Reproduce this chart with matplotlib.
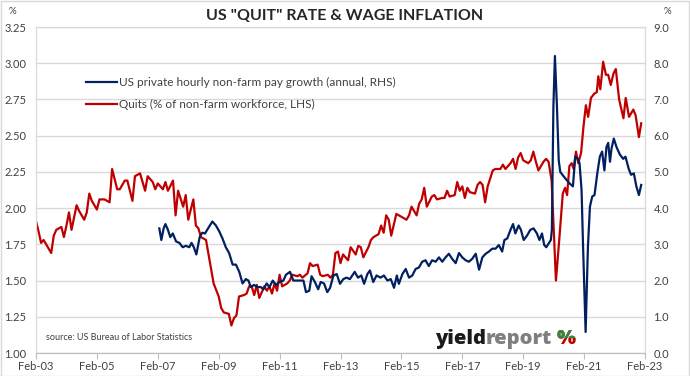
import numpy as np
import matplotlib.pyplot as plt
from matplotlib.lines import Line2D
from matplotlib.patches import Rectangle
from matplotlib.transforms import IdentityTransform

plt.rcParams['font.family'] = ['Lato', 'DejaVu Sans']

# x axis is months since Feb-2003
tick_labels = ['Feb-03', 'Feb-05', 'Feb-07', 'Feb-09', 'Feb-11', 'Feb-13',
               'Feb-15', 'Feb-17', 'Feb-19', 'Feb-21', 'Feb-23']

# Quits (% of non-farm workforce, LHS)
quit_months = [0, 1, 2, 3, 4, 6, 7, 8, 10, 11, 12, 13, 14, 16, 17, 19, 20, 21, 22, 24,
               25, 27, 29, 30, 32, 33, 35, 36, 38, 39, 41, 43, 44, 46, 47, 48, 50, 51, 52, 54,
               55, 56, 58, 59, 60, 62, 63, 64, 65, 67, 68, 69, 70, 72, 73, 74, 76, 77, 78, 79,
               80, 82, 83, 84, 85, 86, 87, 88, 90, 91, 92, 93, 94, 95, 96, 97, 99, 100, 101, 103,
               104, 105, 107, 108, 109, 111, 112, 113, 115, 116, 117, 118, 119, 120, 121, 123,
               124, 126, 127, 128, 129, 131, 132, 133, 135, 136, 137, 138, 139, 140, 142, 143,
               144, 146, 147, 148, 150, 151, 152, 153, 154, 156, 157, 158, 160, 161, 162, 163,
               165, 166, 167, 168, 169, 170, 171, 173, 174, 175, 176, 177, 178, 180, 181, 183,
               184, 185, 187, 188, 189, 190, 191, 192, 194, 195, 196, 197, 198, 200, 201, 202,
               203.2, 204.9, 206.2, 207.6, 208.5, 209.3, 210.2, 211.1, 211.9, 212.8, 213.7,
               214.8, 215.8, 216.7, 217.6, 218.7, 220, 221, 221.6, 222.4, 223.5, 224.6, 225.5,
               226.5, 227.6, 228.5, 229.8, 231.5, 232.4, 233.7, 235.4, 236.3, 237.6, 238.5]
quit_rate = [1.91, 1.84, 1.76, 1.78, 1.75, 1.69, 1.81, 1.85, 1.87, 1.80, 1.88, 1.97, 1.85, 2.02,
             1.98, 1.92, 1.97, 2.10, 2.05, 1.99, 2.06, 2.06, 2.04, 2.27, 2.13, 2.13, 2.19, 2.19,
             2.05, 2.22, 2.24, 2.12, 2.22, 2.18, 2.13, 2.17, 2.13, 2.18, 2.12, 2.19, 1.95, 2.12,
             2.01, 2.09, 1.92, 2.06, 1.88, 1.86, 1.80, 1.78, 1.68, 1.58, 1.48, 1.39, 1.31, 1.28,
             1.27, 1.19, 1.24, 1.26, 1.39, 1.40, 1.41, 1.46, 1.46, 1.40, 1.47, 1.38, 1.46, 1.43,
             1.46, 1.41, 1.48, 1.43, 1.54, 1.46, 1.48, 1.50, 1.54, 1.53, 1.54, 1.52, 1.55, 1.62,
             1.60, 1.61, 1.54, 1.53, 1.54, 1.52, 1.54, 1.69, 1.70, 1.62, 1.68, 1.64, 1.73, 1.68,
             1.74, 1.73, 1.66, 1.73, 1.78, 1.80, 1.82, 1.88, 1.83, 1.95, 1.92, 1.81, 1.96, 1.95,
             1.94, 1.92, 1.95, 2.01, 1.95, 2.03, 2.06, 2.14, 2.01, 2.08, 2.09, 2.06, 2.07, 2.07,
             2.12, 2.08, 2.09, 2.18, 2.12, 2.15, 2.07, 2.14, 2.11, 2.10, 2.16, 2.18, 2.16, 2.04,
             2.15, 2.26, 2.27, 2.27, 2.30, 2.27, 2.31, 2.34, 2.27, 2.35, 2.38, 2.33, 2.31, 2.33,
             2.39, 2.32, 2.26, 2.32, 2.34, 2.32, 2.19, 1.50, 1.78, 2.10, 2.14, 2.09, 2.29, 2.31,
             2.27, 2.39, 2.31, 2.38, 2.57, 2.71, 2.63, 2.76, 2.79, 2.80, 2.91, 2.82, 3.01, 2.92,
             2.92, 2.85, 2.93, 2.96, 2.75, 2.62, 2.76, 2.63, 2.68, 2.64, 2.49, 2.585]

# US private hourly non-farm pay growth (annual, RHS)
wage_months = [48.6, 49.4, 50.3, 51, 52, 52.9, 53.9, 55.2, 56.5, 57.8, 59.1, 60.4, 61.3, 62.2,
               63.2, 64.5, 65.5, 66.6, 67.8, 69.5, 70.9, 72.2, 73.5, 74.8, 76.1, 77.5, 78.8,
               80.1, 81.4, 82.7, 83.7, 84.7, 85.9, 87.2, 88.6, 89.6, 90.9, 92, 93.3, 94.6, 95.9,
               97.5, 98.5, 100.1, 101.4, 102.7, 104, 105.4, 106.4, 107.7, 108.6, 109.9, 111.2,
               112.2, 113.5, 114.8, 115.9, 117.2, 118.5, 119.8, 121.1, 122.4, 123.7, 125.6,
               126.9, 128.2, 129.3, 130.6, 131.6, 132.9, 134.2, 135.8, 137.1, 138.5, 139.8,
               141.1, 142.2, 143, 144.4, 145.7, 147, 148.3, 149.6, 150.9, 152.2, 153.5, 154.8,
               156.1, 157.5, 158.8, 160.1, 161.4, 162.7, 164, 165.4, 166.7, 168, 169.3, 170.6,
               171.9, 173.3, 174.6, 175.9, 177.2, 178.5, 179.8, 181.1, 182.4, 183.7, 184.6,
               185.7, 187, 188, 188.9, 190.2, 191.1, 192.2, 193.5, 194.8, 196.1, 197.4, 198.4,
               199.4, 200.3, 201.1, 202, 202.9, 203.3, 203.9, 204.5, 205.3, 206, 206.6, 207.9,
               209.3, 210.3, 211.6, 212.5, 213.5, 214.2, 215, 215.6, 216.6, 217.5, 218.3, 219.2,
               220.1, 221.2, 222.2, 223.1, 224, 224.8, 225.5, 226.2, 226.8, 227.7, 228.8, 230.1,
               231.4, 232.3, 233.6, 234.5, 235.6, 236.6, 237.6, 238.5]
wage_growth = [3.44, 3.12, 3.44, 3.56, 3.40, 3.20, 3.30, 3.08, 3.04, 2.92, 2.96, 2.92, 3.04, 2.92,
               2.72, 3.20, 3.32, 3.30, 3.44, 3.63, 3.52, 3.36, 3.16, 2.92, 2.76, 2.44, 2.44, 2.24,
               1.92, 2.04, 2.00, 1.82, 1.88, 1.82, 1.82, 1.76, 1.92, 1.82, 2.00, 1.88, 1.96, 2.00,
               2.16, 2.24, 2.00, 2.00, 2.00, 2.00, 1.68, 1.72, 2.12, 1.96, 1.76, 1.96, 1.92, 1.68,
               1.80, 2.14, 2.18, 1.91, 2.04, 2.08, 2.04, 2.24, 2.08, 2.14, 1.91, 2.18, 2.28, 1.96,
               2.14, 2.08, 2.14, 2.00, 2.04, 1.80, 2.14, 1.91, 2.18, 2.32, 2.08, 2.14, 2.32, 2.36,
               2.52, 2.56, 2.40, 2.56, 2.52, 2.64, 2.52, 2.64, 2.74, 2.60, 2.48, 2.76, 2.64, 2.56,
               2.52, 2.60, 2.74, 2.30, 2.64, 2.74, 2.80, 2.88, 2.88, 2.98, 2.80, 3.12, 3.16, 3.40,
               3.56, 3.30, 3.52, 3.40, 3.12, 3.24, 3.40, 3.44, 3.30, 3.12, 3.30, 2.98, 2.92, 3.02,
               3.12, 3.40, 6.80, 8.20, 6.80, 5.32, 5.00, 4.88, 4.76, 4.68, 4.60, 5.42, 5.36, 5.24,
               4.50, 2.92, 0.58, 2.92, 4.04, 4.32, 4.36, 4.96, 5.42, 5.56, 5.04, 5.68, 5.80, 5.28,
               5.64, 5.92, 5.68, 5.48, 5.36, 5.42, 5.08, 4.92, 4.96, 4.60, 4.36, 4.64]

RED = '#C00000'
BLUE = '#002060'
GRID = '#D9D9D9'
TXT = '#404040'

fig = plt.figure(figsize=(6.9, 3.76), dpi=100)
ax = fig.add_axes([36 / 690, 1 - 353 / 376, 609 / 690, 326 / 376])
ax2 = ax.twinx()

ax.plot(quit_months, quit_rate, color=RED, lw=1.6, solid_joinstyle='round')
ax2.plot(wage_months, wage_growth, color=BLUE, lw=1.6, solid_joinstyle='round')

ax.set_xlim(0, 240)
ax.set_xticks(np.arange(0, 241, 24))
ax.set_xticklabels(tick_labels)
ax.set_ylim(1.0, 3.25)
ax.set_yticks(np.arange(1.0, 3.26, 0.25))
ax.set_yticklabels([f'{v:.2f}' for v in np.arange(1.0, 3.26, 0.25)])
ax2.set_ylim(0, 9)
ax2.set_yticks(np.arange(0, 10, 1))
ax2.set_yticklabels([f'{v:.1f}' for v in range(10)])

ax.yaxis.grid(True, color=GRID, lw=1)
ax.set_axisbelow(True)
ax.tick_params(axis='x', direction='out', length=4, color='#BFBFBF', labelsize=8,
               labelcolor=TXT, pad=2)
ax.tick_params(axis='y', length=0, labelsize=8, labelcolor=TXT, pad=7)
ax2.tick_params(axis='y', length=0, labelsize=8, labelcolor=TXT, pad=6)

for a in (ax, ax2):
    a.spines['top'].set_color(GRID)
    a.spines['left'].set_color(GRID)
    a.spines['right'].set_color(GRID)
    a.spines['bottom'].set_color('#BFBFBF')

handles = [Line2D([], [], color=BLUE, lw=1.6), Line2D([], [], color=RED, lw=1.6)]
labels = ['US private hourly non-farm pay growth (annual, RHS)',
          'Quits (% of non-farm workforce, LHS)']
ax2.legend(handles, labels, loc='upper left', bbox_to_anchor=(0.075, 0.86), frameon=False,
           handlelength=2.6, handletextpad=0.2, labelspacing=0.9, fontsize=8.5,
           labelcolor=TXT, borderaxespad=0)

fig.text(0.5, 1 - 16 / 376, 'US "QUIT" RATE & WAGE INFLATION', ha='center', va='center',
         fontsize=11.5, fontweight='bold', color='#262626')
fig.text(12 / 690, 1 - 12 / 376, '%', ha='center', va='center', fontsize=7, color=TXT)
fig.text(667 / 690, 1 - 12 / 376, '%', ha='center', va='center', fontsize=7, color=TXT)
fig.text(46 / 690, 1 - 338 / 376, 'source: US Bureau of Labor Statistics', ha='left',
         va='center', fontsize=6.5, color=TXT)

# yieldreport logo
renderer = fig.canvas.get_renderer()
base_y = 1 - 344 / 376
logo = dict(fontsize=14.5, fontweight='heavy', family=['Open Sans', 'DejaVu Sans'],
            va='baseline')
t1 = fig.text(435 / 690, base_y, 'yield', color='#1a1a1a', **logo)
bb = t1.get_window_extent(renderer)
t2 = fig.text(bb.x1 / 690, base_y, 'report', color='#7f7f7f', **logo)
bb = t2.get_window_extent(renderer)
px = bb.x1 / 690 + 0.007
t3 = fig.text(px, base_y, '%', color=RED, **logo)
t4 = fig.text(px, base_y, '%', color='#2E8B3E', **logo)
bb = t3.get_window_extent(renderer)
clip = Rectangle((bb.x0 - 2, (bb.y0 + bb.y1) / 2 + 1), bb.width + 4, bb.height,
                 transform=IdentityTransform())
t4.set_clip_path(clip)

fig.add_artist(Rectangle((0.001, 0.001), 0.998, 0.997, transform=fig.transFigure,
                         fill=False, edgecolor=GRID, lw=1))

fig.savefig('out.png', dpi=100)
